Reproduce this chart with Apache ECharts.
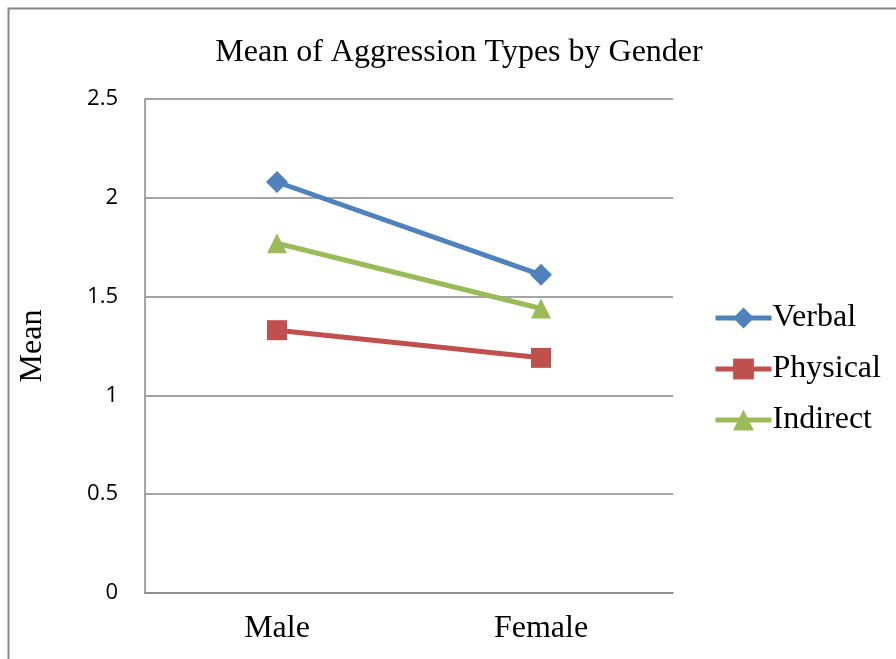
<!DOCTYPE html>
<html><head><meta charset="utf-8">
<script src="https://cdn.jsdelivr.net/npm/echarts@6/dist/echarts.min.js"></script>
<style>html,body{margin:0;padding:0;background:#fff}#c{width:896px;height:659px}</style>
</head><body><div id="c"></div>
<script>
const categories = ["Male", "Female"];
const verbal = [2.08, 1.61];
const physical = [1.33, 1.19];
const indirect = [1.77, 1.44];
const yTicks = [0, 0.5, 1, 1.5, 2, 2.5];

const chart = echarts.init(document.getElementById('c'));
const serif = '"Liberation Serif", "Times New Roman", serif';
function s(name, data, color, symbol, size) {
  return {
    name, type: 'line', data, symbol, symbolSize: size,
    lineStyle: { color, width: 5 }, itemStyle: { color },
    emphasis: { disabled: true }
  };
}
chart.setOption({
  animation: false,
  graphic: [{ type: 'rect', shape: { x: 8.5, y: 8.5, width: 1000, height: 1000 },
    style: { fill: 'none', stroke: '#868686', lineWidth: 2 } }],
  title: { text: 'Mean of Aggression Types by Gender', left: 454, top: 32, textAlign: 'center',
    textStyle: { fontFamily: serif, fontSize: 32, fontWeight: 'normal', color: '#000' } },
  grid: { left: 145, top: 99, width: 528, height: 494, containLabel: false },
  legend: {
    orient: 'vertical', left: 713, top: 302, padding: 0, itemWidth: 56, itemHeight: 26, itemGap: 19,
    lineStyle: { width: 5 },
    textStyle: { fontFamily: serif, fontSize: 32, color: '#000', padding: [0,0,0,-4] },
    data: ['Verbal', 'Physical', 'Indirect']
  },
  xAxis: {
    type: 'category', data: categories, boundaryGap: true,
    axisLine: { lineStyle: { color: '#868686', width: 1.5 } },
    axisTick: { show: false },
    axisLabel: { fontFamily: serif, fontSize: 32, color: '#000', margin: 20 }
  },
  yAxis: {
    type: 'value', min: yTicks[0], max: yTicks[yTicks.length - 1], interval: 0.5,
    name: 'Mean', nameLocation: 'middle', nameGap: 96, nameRotate: 90,
    nameTextStyle: { fontFamily: serif, fontSize: 32, color: '#000' },
    axisLine: { show: true, lineStyle: { color: '#868686', width: 1.5 } },
    axisTick: { show: false },
    splitLine: { lineStyle: { color: '#868686', width: 1.5 } },
    axisLabel: { fontFamily: '"Open Sans", "Liberation Sans", sans-serif', fontSize: 22, color: '#000', margin: 27 }
  },
  series: [
    s('Verbal', verbal, '#4F81BD', 'diamond', 22),
    s('Physical', physical, '#C0504D', 'rect', 20),
    s('Indirect', indirect, '#9BBB59', 'triangle', 20)
  ]
});
</script></body></html>
